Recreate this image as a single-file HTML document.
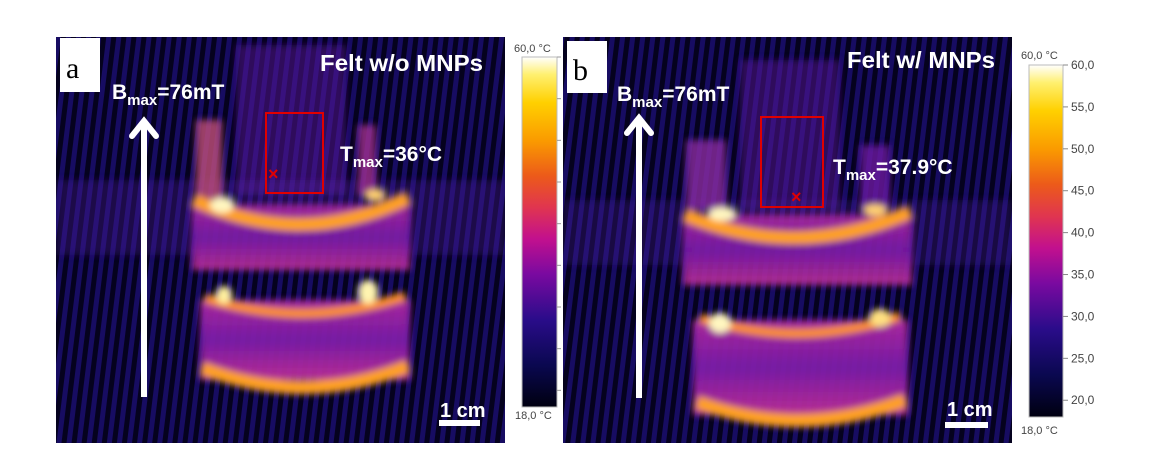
<!DOCTYPE html>
<html><head><meta charset="utf-8"><style>
html,body{margin:0;padding:0;background:#fff;}
svg{display:block;}
text{font-family:"Liberation Sans","DejaVu Sans",sans-serif;}
</style></head><body>
<svg id="fig" width="1153" height="464" viewBox="0 0 1153 464" xmlns="http://www.w3.org/2000/svg">
<defs>
<pattern id="stripes" width="10" height="40" patternUnits="userSpaceOnUse" patternTransform="rotate(7)">
<rect width="10" height="40" fill="#05021e"/>
<rect x="0" width="5" height="40" fill="#170c62"/>
</pattern>
<linearGradient id="cmap" x1="0" y1="1" x2="0" y2="0">
<stop offset="0" stop-color="#000010"/>
<stop offset="0.12" stop-color="#0a0850"/>
<stop offset="0.25" stop-color="#2a0c8a"/>
<stop offset="0.38" stop-color="#7a0aa0"/>
<stop offset="0.48" stop-color="#c2108e"/>
<stop offset="0.57" stop-color="#e03550"/>
<stop offset="0.66" stop-color="#ec5a1a"/>
<stop offset="0.76" stop-color="#fa9a00"/>
<stop offset="0.87" stop-color="#ffd000"/>
<stop offset="0.95" stop-color="#fff070"/>
<stop offset="1" stop-color="#ffffff"/>
</linearGradient>
<linearGradient id="body" x1="0" y1="0" x2="0" y2="1">
<stop offset="0" stop-color="#b02aa0"/>
<stop offset="0.5" stop-color="#7a1aa8"/>
<stop offset="1" stop-color="#c03098"/>
</linearGradient>
<filter id="blur" x="-20%" y="-20%" width="140%" height="140%"><feGaussianBlur stdDeviation="3.5"/></filter>
<clipPath id="clipA"><rect x="56" y="37" width="449" height="406"/></clipPath>
<clipPath id="clipB"><rect x="563" y="37" width="449" height="406"/></clipPath>
</defs>

<g id="panelA" clip-path="url(#clipA)">
<rect x="56" y="37" width="449" height="406" fill="url(#stripes)"/>
<g filter="url(#blur)">
<rect x="56" y="180" width="449" height="75" fill="#4a1a9a" opacity="0.35"/>
<rect x="236" y="45" width="110" height="150" fill="#5a1a9a" opacity="0.5"/>
<rect x="196" y="120" width="26" height="80" fill="#c0507a" opacity="0.8"/>
<rect x="358" y="125" width="18" height="70" fill="#a03090" opacity="0.8"/>
<rect x="192" y="205" width="218" height="65" fill="url(#body)" opacity="0.9"/>
<rect x="200" y="300" width="210" height="80" fill="url(#body)" opacity="0.95"/>
<path d="M194,200 Q301,250 408,198" fill="none" stroke="#ffa020" stroke-width="13"/>
<path d="M205,298 Q305,330 405,296" fill="none" stroke="#ff9020" stroke-width="9"/>
<path d="M202,368 Q305,408 408,366" fill="none" stroke="#ffa020" stroke-width="13"/>
<ellipse cx="222" cy="205" rx="12" ry="8" fill="#fff6c0"/>
<ellipse cx="368" cy="292" rx="10" ry="12" fill="#fff4b0"/>
<ellipse cx="224" cy="295" rx="8" ry="9" fill="#fff0a0"/>
<ellipse cx="375" cy="195" rx="10" ry="6" fill="#ffd070"/>
</g>
<rect x="266" y="113" width="57" height="80" fill="none" stroke="#e00000" stroke-width="2"/>
<text x="268" y="180" fill="#e00000" font-size="18" font-weight="bold">×</text>
<rect x="60" y="38" width="40" height="54" fill="#fff"/>
<text x="66" y="78" font-size="30" fill="#000" style="font-family:'Liberation Serif',serif">a</text>
<text x="320" y="71" fill="#fff" font-size="23" font-weight="bold" textLength="163" lengthAdjust="spacingAndGlyphs">Felt w/o MNPs</text>
<text x="112" y="99" fill="#fff" font-size="21" font-weight="bold">B<tspan font-size="15" dy="6">max</tspan><tspan dy="-6">=76mT</tspan></text>
<line x1="144" y1="397" x2="144" y2="124" stroke="#fff" stroke-width="6"/>
<polyline points="132,136 144,121 156,136" fill="none" stroke="#fff" stroke-width="6" stroke-linecap="round"/>
<text x="340" y="161" fill="#fff" font-size="21" font-weight="bold">T<tspan font-size="15" dy="6">max</tspan><tspan dy="-6">=36°C</tspan></text>
<text x="440" y="417" fill="#fff" font-size="20" font-weight="bold">1 cm</text>
<rect x="439" y="420" width="41" height="6" fill="#fff"/>
</g>

<g id="panelB" clip-path="url(#clipB)">
<rect x="563" y="37" width="449" height="406" fill="url(#stripes)"/>
<g filter="url(#blur)">
<rect x="563" y="200" width="449" height="65" fill="#4a1a9a" opacity="0.3"/>
<rect x="740" y="60" width="100" height="150" fill="#5a1a9a" opacity="0.5"/>
<rect x="686" y="140" width="40" height="70" fill="#8a2aa0" opacity="0.8"/>
<rect x="860" y="145" width="30" height="65" fill="#6a1aa0" opacity="0.8"/>
<rect x="683" y="215" width="229" height="70" fill="url(#body)" opacity="0.9"/>
<rect x="693" y="320" width="215" height="95" fill="url(#body)" opacity="0.95"/>
<path d="M685,215 Q797,262 910,212" fill="none" stroke="#ffa020" stroke-width="13"/>
<path d="M700,318 Q800,350 900,316" fill="none" stroke="#ff9020" stroke-width="9"/>
<path d="M697,402 Q800,440 905,400" fill="none" stroke="#ffa020" stroke-width="13"/>
<ellipse cx="722" cy="214" rx="14" ry="7" fill="#fff6c0"/>
<ellipse cx="720" cy="323" rx="11" ry="10" fill="#fff6c0"/>
<ellipse cx="880" cy="318" rx="11" ry="9" fill="#ffe080"/>
<ellipse cx="875" cy="210" rx="12" ry="6" fill="#ffd070"/>
</g>
<rect x="761" y="117" width="62" height="90" fill="none" stroke="#e00000" stroke-width="2"/>
<text x="791" y="203" fill="#e00000" font-size="18" font-weight="bold">×</text>
<rect x="567" y="41" width="40" height="52" fill="#fff"/>
<text x="573" y="80" font-size="30" fill="#000" style="font-family:'Liberation Serif',serif">b</text>
<text x="847" y="68" fill="#fff" font-size="23" font-weight="bold" textLength="148" lengthAdjust="spacingAndGlyphs">Felt w/ MNPs</text>
<text x="617" y="101" fill="#fff" font-size="21" font-weight="bold">B<tspan font-size="15" dy="6">max</tspan><tspan dy="-6">=76mT</tspan></text>
<line x1="639" y1="398" x2="639" y2="121" stroke="#fff" stroke-width="6"/>
<polyline points="627,133 639,118 651,133" fill="none" stroke="#fff" stroke-width="6" stroke-linecap="round"/>
<text x="833" y="174" fill="#fff" font-size="21" font-weight="bold">T<tspan font-size="15" dy="6">max</tspan><tspan dy="-6">=37.9°C</tspan></text>
<text x="947" y="416" fill="#fff" font-size="20" font-weight="bold">1 cm</text>
<rect x="945" y="422" width="43" height="6" fill="#fff"/>
</g>

<g id="cbarA">
<rect x="522" y="57" width="35" height="350" fill="url(#cmap)" stroke="#bbb" stroke-width="1"/>
<text x="514" y="52" font-size="11" fill="#444">60,0 °C</text>
<text x="515" y="419" font-size="11" fill="#444">18,0 °C</text>
</g>
<g id="cbarB">
<rect x="1029" y="65" width="34" height="352" fill="url(#cmap)" stroke="#bbb" stroke-width="1"/>
<text x="1021" y="59" font-size="11" fill="#444">60,0 °C</text>
<text x="1021" y="434" font-size="11" fill="#444">18,0 °C</text>
<g id="cbarBTicks"></g>
</g>
</svg>
<script>
const tickValues = [60, 55, 50, 45, 40, 35, 30, 25, 20];
const tickLabels = ["60,0", "55,0", "50,0", "45,0", "40,0", "35,0", "30,0", "25,0", "20,0"];
const scaleMin = 18, scaleMax = 60;
const NS = "http://www.w3.org/2000/svg";
function yB(v){ return 417 - (v - scaleMin) / (scaleMax - scaleMin) * 352; }
function yA(v){ return 407 - (v - scaleMin) / (scaleMax - scaleMin) * 350; }
const gB = document.getElementById("cbarBTicks");
const gA = document.getElementById("cbarA");
tickValues.forEach((v, i) => {
  const t = document.createElementNS(NS, "line");
  t.setAttribute("x1", 1063); t.setAttribute("x2", 1068);
  t.setAttribute("y1", yB(v)); t.setAttribute("y2", yB(v));
  t.setAttribute("stroke", "#888");
  
  
  gB.appendChild(t);
  const tx = document.createElementNS(NS, "text");
  tx.setAttribute("x", 1071); tx.setAttribute("y", yB(v) + 4);
  tx.setAttribute("font-size", "12"); tx.setAttribute("fill", "#444");
  tx.textContent = tickLabels[i];
  
  
  gB.appendChild(tx);
  const ta = document.createElementNS(NS, "line");
  ta.setAttribute("x1", 557); ta.setAttribute("x2", 561);
  ta.setAttribute("y1", yA(v)); ta.setAttribute("y2", yA(v));
  ta.setAttribute("stroke", "#999");
  
  
  gA.appendChild(ta);
});
</script>
</body></html>
